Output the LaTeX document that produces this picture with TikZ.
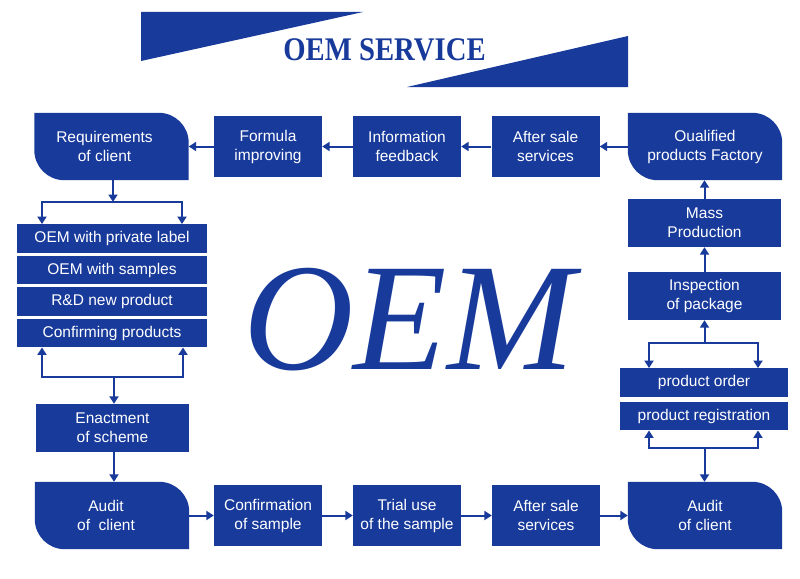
\documentclass[tikz,border=0pt]{standalone}
\usepackage{fontspec}
\setmainfont{Liberation Sans}
\newfontfamily\serifT{Liberation Serif}
\usetikzlibrary{arrows.meta,backgrounds}
\definecolor{oemblue}{RGB}{24,58,155}
\newcommand\leaffill[1]{\fill[oemblue] (#1.north west) -- ([xshift=-30pt]#1.north east) .. controls ([xshift=-13.4pt]#1.north east) and ([yshift=-13.4pt]#1.north east) .. ([yshift=-30pt]#1.north east) -- (#1.south east) -- ([xshift=30pt]#1.south west) .. controls ([xshift=13.4pt]#1.south west) and ([yshift=13.4pt]#1.south west) .. ([yshift=30pt]#1.south west) -- cycle;}
\begin{document}
\begin{tikzpicture}[x=1pt,y=-1pt,
  txt/.style={text=white,inner sep=0pt,align=center,font=\fontsize{15.5}{19}\selectfont},
  box/.style={txt,fill=oemblue},
  smallbox/.style={box,minimum width=108pt,minimum height=61pt},
  midbox/.style={box,minimum width=153pt,minimum height=48pt},
  stackbox/.style={box,minimum width=190pt,minimum height=28.5pt},
  ordbox/.style={box,minimum width=168pt,minimum height=28.5pt},
  leaf/.style={txt,minimum width=154pt,minimum height=67pt},
  conn/.style={draw=oemblue,line width=2pt},
  arr/.style={conn,-{Triangle[length=7.5pt,width=9pt]}},
  arrtwo/.style={conn,{Triangle[length=7.5pt,width=9pt]}-{Triangle[length=7.5pt,width=9pt]}}]
\useasboundingbox (0,0) rectangle (800,578);
% banner
\fill[oemblue] (141,12) -- (363,12) -- (141,61) -- cycle;
\fill[oemblue] (407,87) -- (628,87) -- (628,36) -- cycle;
\node[font=\serifT\bfseries\fontsize{33}{33}\selectfont,text=oemblue,xscale=0.87,anchor=base,inner sep=0pt] (title) at (384.5,61) {OEM SERVICE};
% big OEM
\node[font=\serifT\itshape\fontsize{153}{153}\selectfont,text=oemblue,anchor=base,inner sep=0pt] (oem) at (409,369) {OEM};
% top row
\node[leaf] (req) at (111.5,146.5) {Requirements\hspace*{14pt}\mbox{}\\of client\hspace*{14pt}\mbox{}};
\node[smallbox] (form) at (268,146.5) {Formula\\improving};
\node[smallbox] (info) at (407,146.5) {Information\\feedback};
\node[smallbox] (asaleA) at (545.5,146.5) {After sale\\services};
\node[leaf] (qual) at (705,146.5) {Oualified\\products Factory};
% right column
\node[midbox] (mass) at (704.5,223) {Mass\\Production};
\node[midbox] (insp) at (704.5,296) {Inspection\\of package};
\node[ordbox] (order) at (704,382.5) {product order};
\node[ordbox] (reg) at (704,416) {product registration};
% left column
\node[stackbox] (sa) at (112,238.5) {OEM with private label};
\node[stackbox] (sb) at (112,270) {OEM with samples};
\node[stackbox] (sc) at (112,301.5) {R\&D new product};
\node[stackbox] (sd) at (112,333) {Confirming products};
\node[midbox] (enact) at (112.5,428) {Enactment\\of scheme};
% bottom row
\node[leaf] (audL) at (112,515.5) {Audit\hspace*{12pt}\mbox{}\\of\ \ client\hspace*{12pt}\mbox{}};
\node[smallbox] (conf) at (268,515.5) {Confirmation\\of sample};
\node[smallbox] (trial) at (407,515.5) {Trial use\\of the sample};
\node[smallbox] (asaleB) at (546,515.5) {After sale\\services};
\node[leaf] (audR) at (705,515.5) {Audit\\of client};
\begin{pgfonlayer}{background}
\fill[white] (0,0) rectangle (800,578);
\leaffill{req}
\leaffill{qual}
\leaffill{audL}
\leaffill{audR}
\end{pgfonlayer}
% coordinates of brackets
\coordinate (lt) at (113,202);
\coordinate (ltl) at (42,202);
\coordinate (ltr) at (182,202);
\coordinate (lb) at (114,377);
\coordinate (lbl) at (42,377);
\coordinate (lbr) at (183,377);
\coordinate (rt) at (704.5,343);
\coordinate (rtl) at (649,343);
\coordinate (rtr) at (758,343);
\coordinate (rb) at (704.5,448);
\coordinate (rbl) at (649,448);
\coordinate (rbr) at (758,448);
% top row connectors
\draw[arr] (form.west) -- (req.east);
\draw[arr] (info.west) -- (form.east);
\draw[arr] (asaleA.west) -- (info.east);
\draw[arr] (qual.west) -- (asaleA.east);
% right column connectors
\draw[arr] (mass.north) -- (mass.north |- qual.south);
\draw[arr] (insp.north) -- (insp.north |- mass.south);
\draw[arr] (rt) -- (rt |- insp.south);
\draw[arrtwo] (rtl |- order.north) -- (rtl) -- (rtr) -- (rtr |- order.north);
\draw[arrtwo] (rbl |- reg.south) -- (rbl) -- (rbr) -- (rbr |- reg.south);
\draw[arr] (rb) -- (rb |- audR.north);
% left column connectors
\draw[arr] (lt |- req.south) -- (lt);
\draw[arrtwo] (ltl |- sa.north) -- (ltl) -- (ltr) -- (ltr |- sa.north);
\draw[arrtwo] (lbl |- sd.south) -- (lbl) -- (lbr) -- (lbr |- sd.south);
\draw[arr] (lb) -- (lb |- enact.north);
\draw[arr] (lb |- enact.south) -- (lb |- audL.north);
% bottom row connectors
\draw[arr] (audL.east) -- (conf.west);
\draw[arr] (conf.east) -- (trial.west);
\draw[arr] (trial.east) -- (asaleB.west);
\draw[arr] (asaleB.east) -- (audR.west);
\end{tikzpicture}
\end{document}
